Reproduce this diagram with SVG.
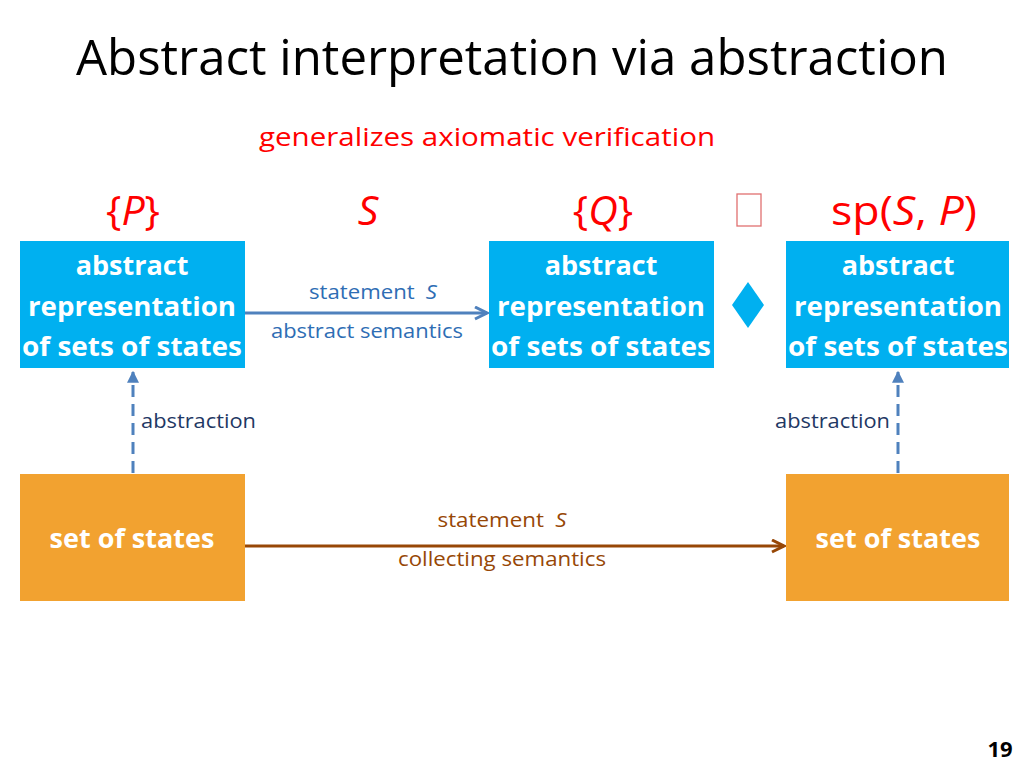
<svg xmlns="http://www.w3.org/2000/svg" width="1024" height="768" viewBox="0 0 1024 768">
<defs>
<style>
text{font-family:"Open Sans","Liberation Sans",sans-serif}
.title{font-size:50px;fill:#000}
.red{fill:#ff0000}
.math{font-size:41px;fill:#ff0000}
.box{font-size:27px;font-weight:bold;fill:#fff}
.lblb{font-size:20.5px;fill:#2e6db4}
.lbld{font-size:20.5px;fill:#1f3864}
.lblo{font-size:20.5px;fill:#974706}
.blue{fill:#00b0f0}
.orange{fill:#f2a230}
</style>
<marker id="ab" viewBox="0 0 10 10" refX="9" refY="5" markerWidth="5" markerHeight="5" orient="auto"><path d="M1,1 L9,5 L1,9" fill="none" stroke="#4f81bd" stroke-width="2"/></marker>
<marker id="ao" viewBox="0 0 10 10" refX="9" refY="5" markerWidth="5" markerHeight="5" orient="auto"><path d="M1,1 L9,5 L1,9" fill="none" stroke="#974706" stroke-width="2"/></marker>
<marker id="tri" viewBox="0 0 10 10" refX="9" refY="5" markerWidth="4" markerHeight="4" orient="auto"><path d="M0,0 L10,5 L0,10 Z" fill="#4f81bd"/></marker>
</defs>
<rect width="1024" height="768" fill="#fff"/>
<text class="title" x="512" y="75" text-anchor="middle" textLength="872" lengthAdjust="spacingAndGlyphs">Abstract interpretation via abstraction</text>
<text class="red" x="487" y="146" font-size="26" text-anchor="middle" textLength="456" lengthAdjust="spacingAndGlyphs">generalizes axiomatic verification</text>
<text class="math" x="133" y="225" text-anchor="middle">{<tspan font-style="italic">P</tspan>}</text>
<text class="math" x="368" y="225" text-anchor="middle" font-style="italic">S</text>
<text class="math" x="603" y="225" text-anchor="middle">{<tspan font-style="italic">Q</tspan>}</text>
<rect x="737" y="194" width="24" height="32" fill="none" stroke="#e07070" stroke-width="1.3"/>
<text class="math" x="904" y="225" text-anchor="middle" textLength="146" lengthAdjust="spacingAndGlyphs">sp(<tspan font-style="italic">S</tspan>, <tspan font-style="italic">P</tspan>)</text>
<polygon points="748,282 764,305 748,328 732,305" fill="#00b0f0"/>
<g id="connectors">
<line x1="245" y1="313" x2="487" y2="313" stroke="#4f81bd" stroke-width="3" marker-end="url(#ab)"/>
<line x1="245" y1="546" x2="784" y2="546" stroke="#974706" stroke-width="3" marker-end="url(#ao)"/>
<line x1="133" y1="473" x2="133" y2="372" stroke="#4f81bd" stroke-width="3" stroke-dasharray="12,7" marker-end="url(#tri)"/>
<line x1="898" y1="473" x2="898" y2="372" stroke="#4f81bd" stroke-width="3" stroke-dasharray="12,7" marker-end="url(#tri)"/>
<text class="lblb" x="373" y="299" text-anchor="middle" textLength="128" lengthAdjust="spacingAndGlyphs">statement <tspan dx="5" font-style="italic">S</tspan></text>
<text class="lblb" x="367" y="338" text-anchor="middle" textLength="192" lengthAdjust="spacingAndGlyphs">abstract semantics</text>
<text class="lbld" x="141" y="428" textLength="115" lengthAdjust="spacingAndGlyphs">abstraction</text>
<text class="lbld" x="890" y="428" text-anchor="end" textLength="115" lengthAdjust="spacingAndGlyphs">abstraction</text>
<text class="lblo" x="502" y="527" text-anchor="middle" textLength="129" lengthAdjust="spacingAndGlyphs">statement <tspan dx="5" font-style="italic">S</tspan></text>
<text class="lblo" x="502" y="566" text-anchor="middle" textLength="208" lengthAdjust="spacingAndGlyphs">collecting semantics</text>
</g>
<g id="a1">
<rect class="blue" x="20" y="241" width="225" height="127"/>
<text class="box" x="132" y="275" text-anchor="middle">abstract</text>
<text class="box" x="132" y="316" text-anchor="middle" textLength="208" lengthAdjust="spacingAndGlyphs">representation</text>
<text class="box" x="132" y="356" text-anchor="middle" textLength="220" lengthAdjust="spacingAndGlyphs">of sets of states</text>
</g>
<g id="a2">
<rect class="blue" x="489" y="241" width="225" height="127"/>
<text class="box" x="601" y="275" text-anchor="middle">abstract</text>
<text class="box" x="601" y="316" text-anchor="middle" textLength="208" lengthAdjust="spacingAndGlyphs">representation</text>
<text class="box" x="601" y="356" text-anchor="middle" textLength="220" lengthAdjust="spacingAndGlyphs">of sets of states</text>
</g>
<g id="a3">
<rect class="blue" x="786" y="241" width="223" height="127"/>
<text class="box" x="898" y="275" text-anchor="middle">abstract</text>
<text class="box" x="898" y="316" text-anchor="middle" textLength="208" lengthAdjust="spacingAndGlyphs">representation</text>
<text class="box" x="898" y="356" text-anchor="middle" textLength="220" lengthAdjust="spacingAndGlyphs">of sets of states</text>
</g>
<g id="s1">
<rect class="orange" x="20" y="474" width="225" height="127"/>
<text class="box" x="132" y="548" text-anchor="middle">set of states</text>
</g>
<g id="s2">
<rect class="orange" x="786" y="474" width="223" height="127"/>
<text class="box" x="898" y="548" text-anchor="middle">set of states</text>
</g>
<text x="1000" y="757" font-size="22" font-weight="bold" text-anchor="middle" fill="#000">19</text>
</svg>
